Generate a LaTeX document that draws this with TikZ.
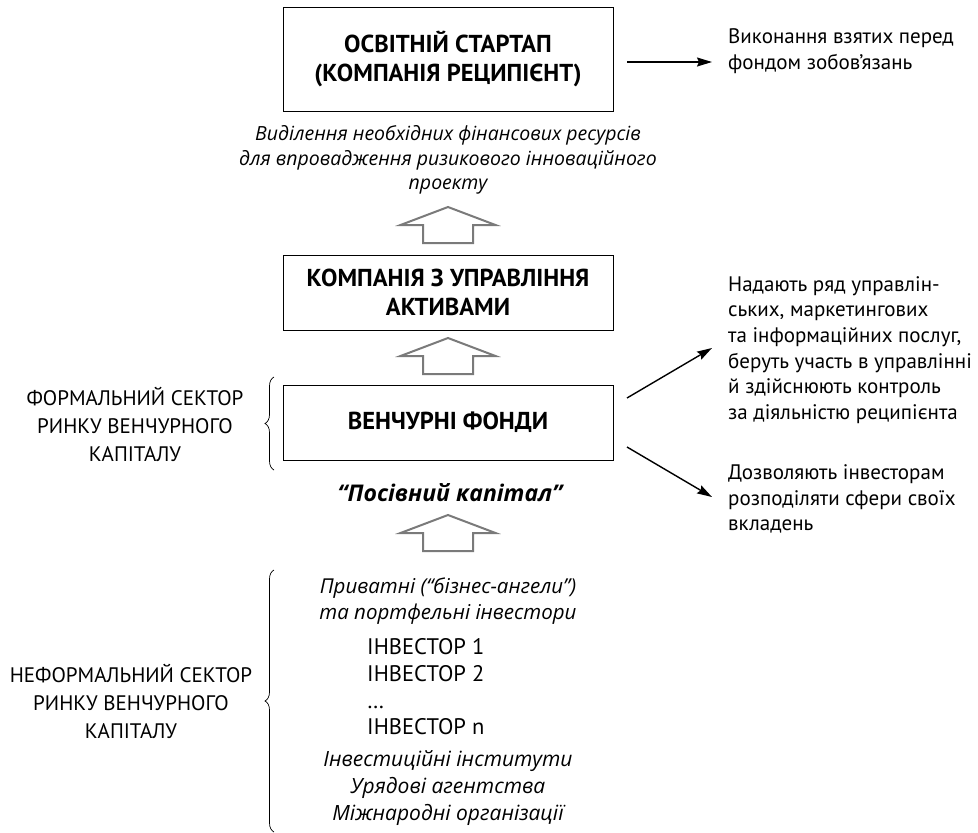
\documentclass[tikz,border=0pt]{standalone}
\usepackage{fontspec}
\setmainfont{PT Sans}
\newfontfamily\itf{Open Sans}
\usetikzlibrary{arrows.meta,decorations.pathreplacing,calc}
\definecolor{arrgray}{HTML}{7A7A7A}
\begin{document}
\begin{tikzpicture}[x=1pt,y=-1pt,
  box/.style={draw, line width=1pt, minimum width=330pt, align=center, inner sep=0pt,
    font=\fontsize{24.5}{29}\selectfont\bfseries},
  ital/.style={align=center, inner sep=0pt, font=\itf\fontsize{19.5}{24.5}\selectfont\itshape},
  plain/.style={align=left, inner sep=0pt, font=\fontsize{21}{25.6}\selectfont},
  sector/.style={align=center, inner sep=0pt, font=\fontsize{21}{28}\selectfont},
  arr/.style={line width=1.4pt, -{Stealth[length=15pt,width=9pt,inset=2pt]}},
  bracestyle/.style={line width=0.7pt, decorate, decoration={brace, amplitude=9pt}},
  hollow/.pic={\draw[arrgray, line width=2pt, fill=white, line join=miter]
     (0,0) -- (47.5,18) -- (25,18) -- (25,36) -- (-25,36) -- (-25,18) -- (-47.5,18) -- cycle;}
]
\useasboundingbox (0,0) rectangle (978,833);

% boxes
\node[box, minimum height=104pt] (start) at (448,59) {ОСВІТНІЙ СТАРТАП\\(КОМПАНІЯ РЕЦИПІЄНТ)};
\node[box, minimum height=75pt] (amc) at (448,292.5) {КОМПАНІЯ З УПРАВЛІННЯ\\АКТИВАМИ};
\node[box, minimum height=75pt] (vf) at (448,422.5) {ВЕНЧУРНІ ФОНДИ};

% italic texts
\node[ital] (alloc) at (448,160) {Виділення необхідних фінансових ресурсів\\для впровадження ризикового інноваційного\\проекту};
\node[ital, font=\itf\fontsize{23}{24.5}\selectfont\bfseries\itshape] (seed) at (450,493) {“Посівний капітал”};

% hollow arrows
\pic at (448,207) {hollow};
\pic at (448,338) {hollow};
\pic at (448,515) {hollow};

% right texts
\node[plain, anchor=west] (oblig) at (728,51) {Виконання взятих перед\\фондом зобов’язань};
\node[plain, anchor=west] (serv) at (728,350) {Надають ряд управлін-\\ських, маркетингових\\та інформаційних послуг,\\беруть участь в управлінні\\й здійснюють контроль\\за діяльністю реципієнта};
\node[plain, anchor=west] (allow) at (728,499) {Дозволяють інвесторам\\розподіляти сфери своїх\\вкладень};

% connectors
\coordinate (s1) at (627,62);
\coordinate (e1) at (712,62);
\draw[arr] (s1) -- (e1);
\coordinate (s2) at (627,398);
\coordinate (e2) at (712,348);
\draw[arr] (s2) -- (e2);
\coordinate (s3) at (627,447);
\coordinate (e3) at (712,497);
\draw[arr] (s3) -- (e3);

% left labels
\node[sector] (formal) at (135,424) {ФОРМАЛЬНИЙ СЕКТОР\\РИНКУ ВЕНЧУРНОГО\\КАПІТАЛУ};
\node[sector] (informal) at (131,701) {НЕФОРМАЛЬНИЙ СЕКТОР\\РИНКУ ВЕНЧУРНОГО\\КАПІТАЛУ};

% braces
\coordinate (b1a) at (274,470);
\coordinate (b1b) at (274,377);
\draw[bracestyle] (b1a) -- (b1b);
\coordinate (b2a) at (274,832);
\coordinate (b2b) at (274,570);
\draw[bracestyle] (b2a) -- (b2b);

% investors
\node[ital, font=\itf\fontsize{20.5}{26}\selectfont\itshape] (priv) at (448,601) {Приватні (“бізнес-ангели”)\\та портфельні інвестори};
\node[plain, anchor=west, font=\fontsize{22.5}{26.7}\selectfont] (inv) at (367,687) {ІНВЕСТОР 1\\ІНВЕСТОР 2\\…\\ІНВЕСТОР n};
\node[ital, font=\itf\fontsize{21}{27}\selectfont\itshape] (inst) at (448,788) {Інвестиційні інститути\\Урядові агентства\\Міжнародні організації};
\end{tikzpicture}
\end{document}
